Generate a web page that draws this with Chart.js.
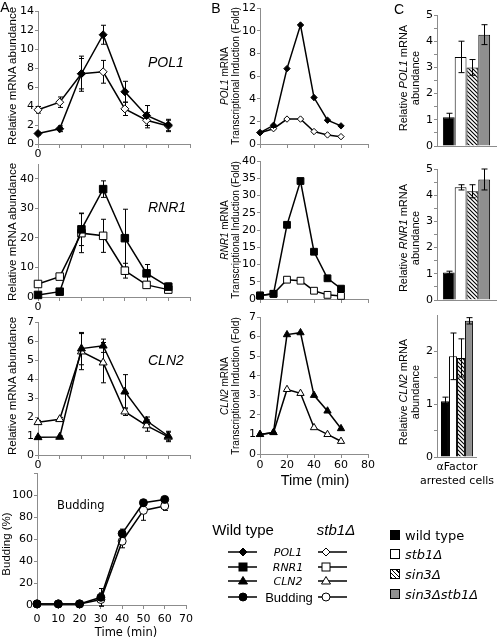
<!DOCTYPE html>
<html>
<head>
<meta charset="utf-8">
<title>Stb1 / Sin3 periodic transcription</title>
<script src="https://cdn.jsdelivr.net/npm/chart.js@4.4.1/dist/chart.umd.min.js"></script>
<style>
  html, body { margin: 0; padding: 0; background: #fff; }
  #fig { position: relative; width: 500px; height: 642px; overflow: hidden; color: #000;
         font-family: 'Liberation Sans', Arial, sans-serif; }
  #fig canvas { position: absolute; left: 0; top: 0; }
  .txt { position: absolute; white-space: nowrap; line-height: 1; transform: translate(-50%, -50%); }
  .lft { transform: translate(0, -50%); }
  .rot { transform: translate(-50%, -50%) rotate(-90deg); text-align: center; }
  .dv { font-family: 'DejaVu Sans', Verdana, sans-serif; }
  .sw { position: absolute; width: 10px; height: 10px; box-sizing: border-box; border: 1px solid #000; }
</style>
</head>
<body>
<div id="fig">
  <canvas id="a1" width="500" height="642"></canvas>
  <canvas id="a2" width="500" height="642"></canvas>
  <canvas id="a3" width="500" height="642"></canvas>
  <canvas id="a4" width="500" height="642"></canvas>
  <canvas id="b1" width="500" height="642"></canvas>
  <canvas id="b2" width="500" height="642"></canvas>
  <canvas id="b3" width="500" height="642"></canvas>
  <canvas id="c1" width="500" height="642"></canvas>
  <canvas id="c2" width="500" height="642"></canvas>
  <canvas id="c3" width="500" height="642"></canvas>

  <!-- panel letters -->
  <div class="txt" style="left:5px;top:7px;font-size:14px">A</div>
  <div class="txt" style="left:216px;top:8px;font-size:14px">B</div>
  <div class="txt" style="left:399px;top:9px;font-size:14px">C</div>

  <!-- panel A titles -->
  <div class="txt rot" style="left:13px;top:76px;font-size:11.5px">Relative mRNA abundance</div>
  <div class="txt rot" style="left:13px;top:232px;font-size:11.5px">Relative mRNA abundance</div>
  <div class="txt rot" style="left:13px;top:386px;font-size:11.5px">Relative mRNA abundance</div>
  <div class="txt rot" style="left:7px;top:544px;font-size:11.5px">Budding (%)</div>
  <div class="txt lft" style="left:148px;top:62px;font-size:14px;font-style:italic">POL1</div>
  <div class="txt lft" style="left:148px;top:207px;font-size:14px;font-style:italic">RNR1</div>
  <div class="txt lft" style="left:148px;top:360px;font-size:14px;font-style:italic">CLN2</div>
  <div class="txt lft dv" style="left:57px;top:506px;font-size:11.5px">Budding</div>
  <div class="txt dv" style="left:126px;top:633px;font-size:11.5px">Time (min)</div>

  <!-- panel B titles -->
  <div class="txt rot" style="left:230px;top:76px;font-size:10px;line-height:11px"><i>POL1</i> mRNA<br>Transcriptional Induction (Fold)</div>
  <div class="txt rot" style="left:230px;top:230px;font-size:10px;line-height:11px"><i>RNR1</i> mRNA<br>Transcriptional Induction (Fold)</div>
  <div class="txt rot" style="left:230px;top:386px;font-size:10px;line-height:11px"><i>CLN2</i> mRNA<br>Transcriptional Induction (Fold)</div>
  <div class="txt" style="left:315px;top:480px;font-size:14.5px">Time (min)</div>

  <!-- panel C titles -->
  <div class="txt rot" style="left:409px;top:78px;font-size:11px;line-height:12px">Relative <i>POL1</i> mRNA<br>abundance</div>
  <div class="txt rot" style="left:409px;top:238px;font-size:11px;line-height:12px">Relative <i>RNR1</i> mRNA<br>abundance</div>
  <div class="txt rot" style="left:409px;top:392px;font-size:11px;line-height:12px">Relative <i>CLN2</i> mRNA<br>abundance</div>

  <!-- line legend -->
  <div class="txt" style="left:243px;top:529px;font-size:15px">Wild type</div>
  <div class="txt" style="left:336px;top:529px;font-size:15px;font-style:italic">stb1&Delta;</div>
  <div class="txt dv" style="left:288px;top:552px;font-size:11px;font-style:italic">POL1</div>
  <div class="txt dv" style="left:288px;top:567px;font-size:11px;font-style:italic">RNR1</div>
  <div class="txt dv" style="left:288px;top:581px;font-size:11px;font-style:italic">CLN2</div>
  <div class="txt" style="left:289px;top:597px;font-size:13px">Budding</div>
  <svg style="position:absolute;left:220px;top:540px" width="140" height="66">
    <g stroke="#000" stroke-width="1.5">
      <line x1="8" y1="12" x2="37" y2="12"/><line x1="8" y1="27" x2="37" y2="27"/>
      <line x1="8" y1="41" x2="37" y2="41"/><line x1="8" y1="57" x2="37" y2="57"/>
      <line x1="98" y1="12" x2="127" y2="12"/><line x1="98" y1="27" x2="127" y2="27"/>
      <line x1="98" y1="41" x2="127" y2="41"/><line x1="98" y1="57" x2="127" y2="57"/>
    </g>
    <g stroke="#000" stroke-width="1" fill="#000">
      <polygon points="23,8 27,12 23,16 19,12"/>
      <rect x="19" y="23" width="8" height="8"/>
      <polygon points="23,36.5 27.5,44 18.5,44"/>
      <circle cx="23" cy="57" r="4"/>
    </g>
    <g stroke="#000" stroke-width="1" fill="#fff">
      <polygon points="106,8 110,12 106,16 102,12"/>
      <rect x="102" y="23" width="8" height="8"/>
      <polygon points="106,36.5 110.5,44 101.5,44"/>
      <circle cx="106" cy="57" r="4"/>
    </g>
  </svg>

  <!-- bar legend -->
  <div class="sw" style="left:390px;top:530px;background:#000"></div>
  <div class="sw" style="left:390px;top:549px;background:#fff"></div>
  <div class="sw" style="left:390px;top:569px;background:repeating-linear-gradient(45deg,#000 0 1px,#fff 1px 3px)"></div>
  <div class="sw" style="left:390px;top:589px;background:#8f8f8f"></div>
  <div class="txt lft dv" style="left:405px;top:535px;font-size:13px">wild type</div>
  <div class="txt lft dv" style="left:405px;top:554px;font-size:13px;font-style:italic">stb1&Delta;</div>
  <div class="txt lft dv" style="left:405px;top:574px;font-size:13px;font-style:italic">sin3&Delta;</div>
  <div class="txt lft dv" style="left:405px;top:594px;font-size:13px;font-style:italic">sin3&Delta;stb1&Delta;</div>
</div>

<script>
// ─── Data ──────────────────────────────────────────
const times = [0, 10, 20, 30, 40, 50, 60];

// Panel A: relative mRNA abundance, wild type vs stb1Δ (mean, ± error)
const polWt     = [1.1, 1.6, 7.4, 11.5, 5.5, 3.0, 2.0];
const polWtErr  = [0.15, 0.3, 1.6, 1.0, 1.1, 1.05, 0.6];
const polStb    = [3.6, 4.4, 7.4, 7.6, 3.7, 2.5, 1.9];
const polStbErr = [0.35, 0.55, 1.85, 1.2, 0.7, 0.8, 0.6];

const rnrWt     = [0.7, 1.8, 22.9, 36.5, 19.9, 8.0, 3.5];
const rnrWtErr  = [0.3, 0.5, 5.5, 2.8, 9.8, 3.0, 1.2];
const rnrStb    = [4.4, 6.9, 21.6, 20.7, 8.9, 4.1, 2.5];
const rnrStbErr = [0.5, 0.8, 6.6, 5.6, 2.5, 1.0, 1.0];

const clnWt     = [0.93, 0.95, 5.6, 5.75, 3.33, 1.8, 1.0];
const clnWtErr  = [0.05, 0.05, 0.85, 0.35, 0.9, 0.2, 0.25];
const clnStb    = [1.72, 1.88, 5.44, 4.86, 2.28, 1.55, 0.95];
const clnStbErr = [0.1, 0.1, 0.95, 1.06, 0.2, 0.3, 0.25];

const budWt     = [1, 1, 1, 7, 65, 93, 96];
const budWtErr  = [0, 0, 0, 8, 4, 2, 2];
const budStb    = [1, 1, 1, 5, 58, 86, 90];
const budStbErr = [0, 0, 0, 6, 6, 9, 4];

// Panel B: transcriptional induction (fold)
const foldPolWt  = [1.0, 1.65, 6.65, 10.5, 4.1, 2.1, 1.6];
const foldPolStb = [1.0, 1.35, 2.2, 2.2, 1.1, 0.8, 0.65];
const foldRnrWt  = [1.0, 1.5, 21.5, 34.2, 13.7, 6.0, 3.0];
const foldRnrStb = [1.0, 1.5, 5.6, 5.3, 2.4, 1.2, 0.9];
const foldClnWt  = [1.0, 1.1, 6.1, 6.2, 3.0, 2.2, 1.3];
const foldClnStb = [1.0, 1.1, 3.3, 3.1, 1.35, 1.0, 0.65];

// Panel C: alpha-factor arrested cells
const strains   = ['wild type', 'stb1Δ', 'sin3Δ', 'sin3Δstb1Δ'];
const arrestPol    = [1.1, 3.4, 3.0, 4.25];
const arrestPolErr = [0.15, 0.6, 0.3, 0.38];
const arrestRnr    = [1.05, 4.3, 4.15, 4.6];
const arrestRnrErr = [0.05, 0.1, 0.25, 0.4];
const arrestCln    = [1.05, 1.9, 1.87, 2.57];
const arrestClnErr = [0.08, 0.44, 0.36, 0.06];

// ─── Shared bits ───────────────────────────────────
const W = 500, H = 642, YW = 30, XH = 20;
const AXIS = '#8c8c8c';
const TICK_FONT = { family: "'DejaVu Sans', Verdana, sans-serif", size: 11 };

// chart area placed by padding on a full-page canvas
function pad(L, T, R, B, xh) {
  return { left: L - YW, top: T, right: W - R, bottom: H - B - (xh || XH) };
}

function drawErrors(chart, cap) {
  const ctx = chart.ctx, y = chart.scales.y;
  ctx.save();
  ctx.strokeStyle = '#000';
  ctx.lineWidth = 1;
  chart.data.datasets.forEach((ds, i) => {
    if (!ds.err) return;
    chart.getDatasetMeta(i).data.forEach((el, j) => {
      const e = ds.err[j];
      if (!e) return;
      const raw = ds.data[j];
      const v = typeof raw === 'object' ? raw.y : raw;
      const top = y.getPixelForValue(v + e), bot = y.getPixelForValue(v - e);
      const x = Math.round(el.x) + 0.5;
      ctx.beginPath();
      ctx.moveTo(x, top); ctx.lineTo(x, bot);
      ctx.moveTo(x - cap, top); ctx.lineTo(x + cap, top);
      ctx.moveTo(x - cap, bot); ctx.lineTo(x + cap, bot);
      ctx.stroke();
    });
  });
  ctx.restore();
}

const errorBars = {
  id: 'errorBars',
  beforeDatasetsDraw(chart, args, opts) { if (!opts.front) drawErrors(chart, opts.cap || 2.5); },
  afterDatasetsDraw(chart, args, opts) { if (opts.front) drawErrors(chart, opts.cap || 3); }
};
Chart.register(errorBars);

function yAxis(max, step, cb) {
  return {
    type: 'linear', min: 0, max,
    afterFit: a => { a.width = YW; },
    border: { color: AXIS },
    grid: { drawOnChartArea: false, tickLength: 3, color: AXIS },
    ticks: { stepSize: step, autoSkip: false, padding: 1, color: '#000', font: TICK_FONT, callback: cb || (v => v) }
  };
}

function xAxis(max, step, cb, padding) {
  return {
    type: 'linear', min: 0, max,
    afterFit: a => { a.height = XH; },
    border: { color: AXIS },
    grid: { drawOnChartArea: false, tickLength: 4, color: AXIS },
    ticks: { stepSize: step, autoSkip: false, maxRotation: 0, padding, color: '#000', font: TICK_FONT, callback: cb || (v => v) }
  };
}

function series(vals, err, style, filled, r) {
  return {
    data: times.map((t, i) => ({ x: t, y: vals[i] })),
    err,
    borderColor: '#000', borderWidth: 1.5,
    pointStyle: style, pointRadius: r,
    pointBackgroundColor: filled ? '#000' : '#fff',
    pointBorderColor: '#000', pointBorderWidth: 1,
    tension: 0, clip: false
  };
}

function lineChart(id, box, sets, xs, ys) {
  return new Chart(document.getElementById(id), {
    type: 'line',
    data: { datasets: sets },
    options: {
      responsive: false, animation: false, events: [],
      layout: { padding: pad(...box) },
      plugins: { legend: { display: false }, tooltip: { enabled: false }, errorBars: { front: false, cap: 2.5 } },
      scales: { x: xs, y: ys }
    }
  });
}

function hatch() {
  const c = document.createElement('canvas');
  c.width = 4; c.height = 4;
  const g = c.getContext('2d');
  g.fillStyle = '#fff'; g.fillRect(0, 0, 4, 4);
  g.strokeStyle = '#000'; g.lineWidth = 1.1;
  g.beginPath();
  g.moveTo(-1, -1); g.lineTo(5, 5);
  g.moveTo(-1, 3); g.lineTo(1, 5);
  g.moveTo(3, -1); g.lineTo(5, 1);
  g.stroke();
  return g.createPattern(c, 'repeat');
}
const BAR_FILLS = ['#000', '#fff', hatch(), '#8f8f8f'];

function barChart(id, box, vals, errs, ys, xLabel) {
  const xh = xLabel ? 40 : XH;
  return new Chart(document.getElementById(id), {
    type: 'bar',
    data: {
      labels: [xLabel || ''],
      datasets: strains.map((s, i) => ({
        label: s, data: [vals[i]], err: [errs[i]],
        backgroundColor: BAR_FILLS[i], borderColor: '#000', borderWidth: 1,
        categoryPercentage: 0.8, barPercentage: 1.0
      }))
    },
    options: {
      responsive: false, animation: false, events: [],
      layout: { padding: pad(...box, xh) },
      plugins: { legend: { display: false }, tooltip: { enabled: false }, errorBars: { front: true, cap: 3 } },
      scales: {
        x: {
          type: 'category',
          afterFit: a => { a.height = xh; },
          border: { color: AXIS },
          grid: { drawOnChartArea: false, drawTicks: false, color: AXIS },
          ticks: { display: !!xLabel, padding: 4, maxRotation: 0, color: '#000', font: { family: TICK_FONT.family, size: 11 } }
        },
        y: ys
      }
    }
  });
}

const onlyZero = v => (v === 0 ? '0' : '');
const halfSteps = v => Number.isInteger(v) ? v : (Math.abs(v * 2 - Math.round(v * 2)) < 1e-9 ? '' : null);

// ─── Panel A ───────────────────────────────────────
lineChart('a1', [38, 11, 190, 144],
  [series(polWt, polWtErr, 'rectRot', true, 4), series(polStb, polStbErr, 'rectRot', false, 4)],
  xAxis(70, 10, onlyZero, 0), yAxis(14, 2));

lineChart('a2', [38, 164, 190, 297],
  [series(rnrWt, rnrWtErr, 'rect', true, 5.3), series(rnrStb, rnrStbErr, 'rect', false, 5.3)],
  xAxis(70, 10, onlyZero, 0), yAxis(45, 10, v => (v % 10 === 0 ? v : null)));

lineChart('a3', [38, 322, 190, 455],
  [series(clnWt, clnWtErr, 'triangle', true, 4.6), series(clnStb, clnStbErr, 'triangle', false, 4.6)],
  xAxis(70, 10, onlyZero, 0), yAxis(7, 1));

lineChart('a4', [37, 473, 186, 605],
  [series(budWt, budWtErr, 'circle', true, 4), series(budStb, budStbErr, 'circle', false, 4)],
  xAxis(70, 10, null, 4), yAxis(120, 20, v => (v > 100 ? '' : v)));

// ─── Panel B ───────────────────────────────────────
lineChart('b1', [260, 8, 368, 144],
  [series(foldPolWt, null, 'rectRot', true, 3.2), series(foldPolStb, null, 'rectRot', false, 3.2)],
  xAxis(80, 20, () => '', 0), yAxis(12, 2));

lineChart('b2', [260, 161, 368, 299],
  [series(foldRnrWt, null, 'rect', true, 4.8), series(foldRnrStb, null, 'rect', false, 4.8)],
  xAxis(80, 20, () => '', 0), yAxis(40, 5));

lineChart('b3', [260, 317, 368, 454],
  [series(foldClnWt, null, 'triangle', true, 4.2), series(foldClnStb, null, 'triangle', false, 4.2)],
  xAxis(80, 20, null, 1), yAxis(7, 1));

// ─── Panel C ───────────────────────────────────────
barChart('c1', [437, 15, 496, 146], arrestPol, arrestPolErr, yAxis(5, 0.5, halfSteps));
barChart('c2', [437, 169, 496, 300], arrestRnr, arrestRnrErr, yAxis(5, 0.5, halfSteps));
barChart('c3', [437, 315, 496, 457], arrestCln, arrestClnErr, yAxis(2.68, 0.5, halfSteps),
  ['αFactor', 'arrested cells']);
</script>
</body>
</html>
